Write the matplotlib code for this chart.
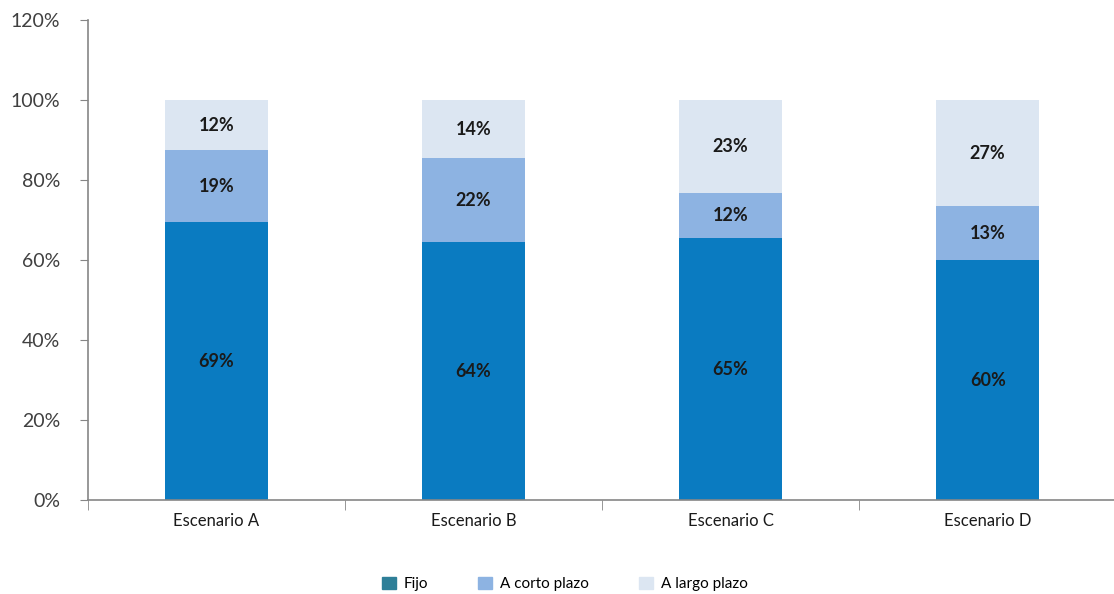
import matplotlib.pyplot as plt
from matplotlib.patches import Patch
import numpy as np

plt.rcParams['font.family'] = ['Lato', 'DejaVu Sans']

escenarios = ["Escenario A", "Escenario B", "Escenario C", "Escenario D"]
fijo = [69.5, 64.5, 65.5, 60.0]
corto = [18.0, 21.0, 11.2, 13.5]
largo = [12.5, 14.5, 23.3, 26.5]
fijo_lbl = ["69%", "64%", "65%", "60%"]
corto_lbl = ["19%", "22%", "12%", "13%"]
largo_lbl = ["12%", "14%", "23%", "27%"]

c_fijo = "#0A7BC1"
c_corto = "#8DB3E2"
c_largo = "#DCE6F2"

fig = plt.figure(figsize=(11.14, 5.94), dpi=100)
ax = fig.add_axes([0.079, 0.158, 0.923, 0.808])

x = np.arange(len(escenarios))
w = 0.4
fijo_a = np.array(fijo)
corto_a = np.array(corto)
ax.bar(x, fijo, w, color=c_fijo)
ax.bar(x, corto, w, bottom=fijo_a, color=c_corto)
ax.bar(x, largo, w, bottom=fijo_a + corto_a, color=c_largo)

# etiquetas dentro de cada tramo
for i in range(len(x)):
    ax.text(x[i], fijo[i] / 2, fijo_lbl[i], ha='center', va='center',
            fontsize=13, fontweight='bold', color='#1a1a1a')
    ax.text(x[i], fijo[i] + corto[i] / 2, corto_lbl[i], ha='center', va='center',
            fontsize=13, fontweight='bold', color='#1a1a1a')
    ax.text(x[i], fijo[i] + corto[i] + largo[i] / 2, largo_lbl[i], ha='center',
            va='center', fontsize=13, fontweight='bold', color='#1a1a1a')

ax.set_xlim(-0.5, len(x) - 0.5)
ax.set_ylim(0, 120)
ax.set_yticks(range(0, 121, 20))
ax.set_yticklabels([f"{v}%" for v in range(0, 121, 20)], fontsize=14, color='#404040')
ax.set_xticks(x)
ax.set_xticklabels(escenarios, fontsize=12, color='#1a1a1a')
ax.tick_params(axis='x', length=0, pad=9)
ax.tick_params(axis='y', length=6, color='#868686', pad=14)
ax.set_xticks(np.arange(-0.5, len(x), 1), minor=True)
ax.tick_params(axis='x', which='minor', length=7, color='#868686')

for s in ['top', 'right']:
    ax.spines[s].set_visible(False)
for s in ['left', 'bottom']:
    ax.spines[s].set_color('#868686')
    ax.spines[s].set_linewidth(1.2)

handles = [Patch(color="#2E7F98", label="Fijo"),
           Patch(color=c_corto, label="A corto plazo"),
           Patch(color=c_largo, label="A largo plazo")]
fig.legend(handles=handles, loc='center', bbox_to_anchor=(0.507, 0.017), ncol=3,
           frameon=False, fontsize=11, handlelength=0.9, handleheight=0.9,
           columnspacing=3.3, handletextpad=0.5)

fig.savefig("out.png", dpi=100)
